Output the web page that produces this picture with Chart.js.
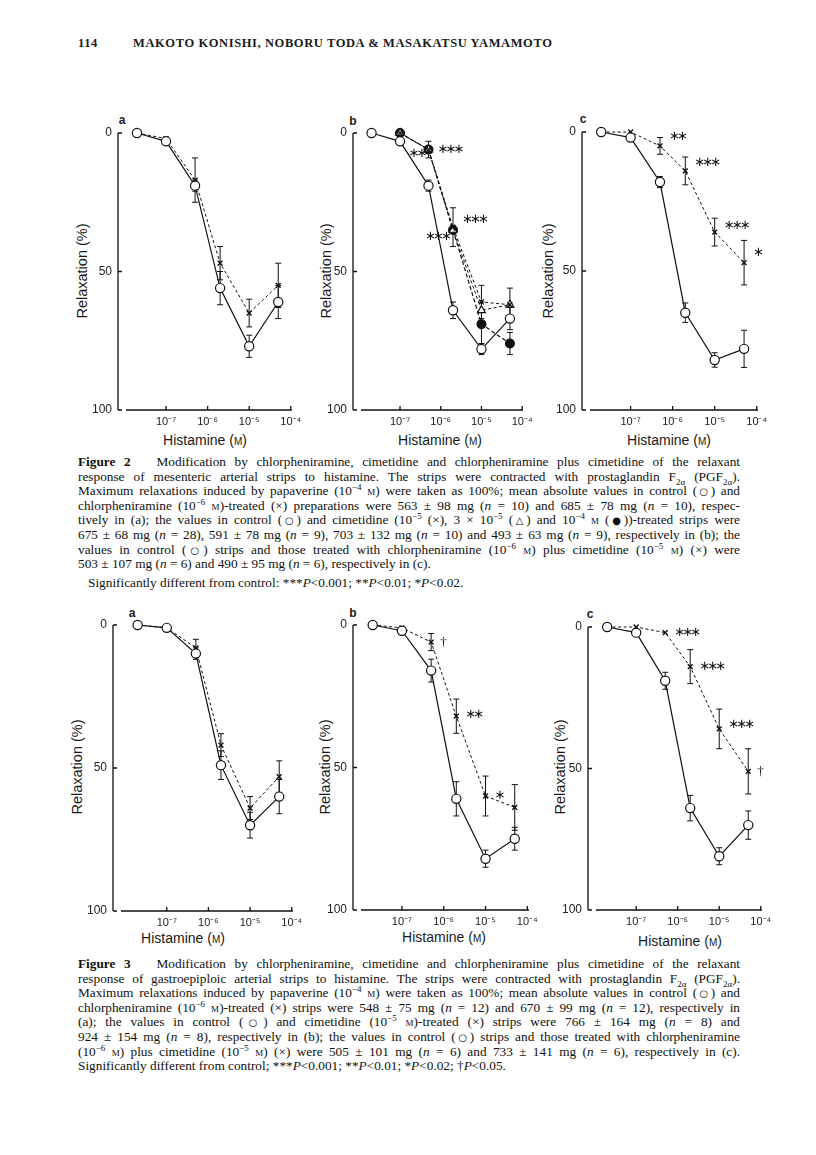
<!DOCTYPE html>
<html>
<head>
<meta charset="utf-8">
<script src="https://cdn.jsdelivr.net/npm/chart.js@4.4.0/dist/chart.umd.min.js"></script>
<style>
body { margin: 0; background: #fff; }
#page { position: relative; width: 816px; height: 1155px; overflow: hidden; background: #fff; color: #1a1a1a; }
canvas { position: absolute; }
.t { position: absolute; white-space: nowrap; }
.hdr { font-family: 'Liberation Serif', serif; font-weight: bold; font-size: 12.5px; letter-spacing: 0.6px; }
.lt { font-family: 'Liberation Sans', Arial, sans-serif; font-weight: bold; font-size: 12px; transform: translate(-50%, -50%); }
.yt { font-family: 'Liberation Sans', Arial, sans-serif; font-size: 14.5px; transform: translate(-50%, -50%) rotate(-90deg); }
.xt { font-family: 'Liberation Sans', Arial, sans-serif; font-size: 14px; transform: translate(-50%, -50%); }
.cap { position: absolute; left: 78px; width: 662px; font-family: 'Liberation Serif', serif; font-size: 13.3px; color: #111; }
.cap div { height: 14.6px; line-height: 14.6px; white-space: nowrap; text-align: justify; text-align-last: justify; }
.cap div.l { text-align: left; text-align-last: left; }
.cap div.ind { padding-left: 10px; margin-top: 4px; }
sup, sub { font-size: 9px; line-height: 0; }
.sc { font-variant: small-caps; }
.sy { font-family: 'DejaVu Sans', sans-serif; font-size: 10px; }
</style>
</head>
<body>
<div id="page">
  <div class="t hdr" style="left:78px; top:36px;">114</div>
  <div class="t hdr" style="left:133px; top:36px;">MAKOTO KONISHI, NOBORU TODA &amp; MASAKATSU YAMAMOTO</div>

  <div class="t lt" style="left:122px; top:120px;">a</div>
  <div class="t lt" style="left:353px; top:121px;">b</div>
  <div class="t lt" style="left:583px; top:119px;">c</div>
  <div class="t yt" style="left:82px; top:271px;">Relaxation (%)</div>
  <div class="t yt" style="left:326px; top:271px;">Relaxation (%)</div>
  <div class="t yt" style="left:548px; top:271px;">Relaxation (%)</div>
  <div class="t xt" style="left:205px; top:440px;">Histamine (<span class="sc">m</span>)</div>
  <div class="t xt" style="left:440px; top:440px;">Histamine (<span class="sc">m</span>)</div>
  <div class="t xt" style="left:669px; top:440px;">Histamine (<span class="sc">m</span>)</div>

  <div class="cap" style="top:455px;">
    <div><b>Figure 2</b>&nbsp;&nbsp; Modification by chlorpheniramine, cimetidine and chlorpheniramine plus cimetidine of the relaxant</div>
    <div>response of mesenteric arterial strips to histamine. The strips were contracted with prostaglandin F<sub>2α</sub> (PGF<sub>2α</sub>).</div>
    <div>Maximum relaxations induced by papaverine (10<sup>−4</sup> <span class="sc">m</span>) were taken as 100%; mean absolute values in control (<span class="sy">○</span>) and</div>
    <div>chlorpheniramine (10<sup>−6</sup> <span class="sc">m</span>)-treated (×) preparations were 563 ± 98 mg (<i>n</i> = 10) and 685 ± 78 mg (<i>n</i> = 10), respec-</div>
    <div>tively in (a); the values in control (<span class="sy">○</span>) and cimetidine (10<sup>−5</sup> (×), 3 × 10<sup>−5</sup> (<span class="sy">△</span>) and 10<sup>−4</sup> <span class="sc">m</span> (<span class="sy">●</span>))-treated strips were</div>
    <div>675 ± 68 mg (<i>n</i> = 28), 591 ± 78 mg (<i>n</i> = 9), 703 ± 132 mg (<i>n</i> = 10) and 493 ± 63 mg (<i>n</i> = 9), respectively in (b); the</div>
    <div>values in control (<span class="sy">○</span>) strips and those treated with chlorpheniramine (10<sup>−6</sup> <span class="sc">m</span>) plus cimetidine (10<sup>−5</sup> <span class="sc">m</span>) (×) were</div>
    <div class="l">503 ± 107 mg (<i>n</i> = 6) and 490 ± 95 mg (<i>n</i> = 6), respectively in (c).</div>
    <div class="l ind">Significantly different from control: ***<i>P</i>&lt;0.001; **<i>P</i>&lt;0.01; *<i>P</i>&lt;0.02.</div>
  </div>

  <div class="t lt" style="left:132px; top:613px;">a</div>
  <div class="t lt" style="left:353px; top:613px;">b</div>
  <div class="t lt" style="left:590px; top:614px;">c</div>
  <div class="t yt" style="left:77px; top:767px;">Relaxation (%)</div>
  <div class="t yt" style="left:325px; top:767px;">Relaxation (%)</div>
  <div class="t yt" style="left:560px; top:767px;">Relaxation (%)</div>
  <div class="t xt" style="left:183px; top:938px;">Histamine (<span class="sc">m</span>)</div>
  <div class="t xt" style="left:444px; top:937px;">Histamine (<span class="sc">m</span>)</div>
  <div class="t xt" style="left:680px; top:941px;">Histamine (<span class="sc">m</span>)</div>

  <div class="cap" style="top:957px;">
    <div><b>Figure 3</b>&nbsp;&nbsp; Modification by chlorpheniramine, cimetidine and chlorpheniramine plus cimetidine of the relaxant</div>
    <div>response of gastroepiploic arterial strips to histamine. The strips were contracted with prostaglandin F<sub>2α</sub> (PGF<sub>2α</sub>).</div>
    <div>Maximum relaxations induced by papaverine (10<sup>−4</sup> <span class="sc">m</span>) were taken as 100%; mean absolute values in control (<span class="sy">○</span>) and</div>
    <div>chlorpheniramine (10<sup>−6</sup> <span class="sc">m</span>)-treated (×) strips were 548 ± 75 mg (<i>n</i> = 12) and 670 ± 99 mg (<i>n</i> = 12), respectively in</div>
    <div>(a); the values in control (<span class="sy">○</span>) and cimetidine (10<sup>−5</sup> <span class="sc">m</span>)-treated (×) strips were 766 ± 164 mg (<i>n</i> = 8) and</div>
    <div>924 ± 154 mg (<i>n</i> = 8), respectively in (b); the values in control (<span class="sy">○</span>) strips and those treated with chlorpheniramine</div>
    <div>(10<sup>−6</sup> <span class="sc">m</span>) plus cimetidine (10<sup>−5</sup> <span class="sc">m</span>) (×) were 505 ± 101 mg (<i>n</i> = 6) and 733 ± 141 mg (<i>n</i> = 6), respectively in (c).</div>
    <div class="l">Significantly different from control; ***<i>P</i>&lt;0.001; **<i>P</i>&lt;0.01; *<i>P</i>&lt;0.02; †<i>P</i>&lt;0.05.</div>
  </div>
</div>

<script>
// histamine concentrations (M) used in every panel
const conc = [2e-8, 1e-7, 5e-7, 2e-6, 1e-5, 5e-5];
const xTicks = [1e-7, 1e-6, 1e-5, 1e-4];
const yTicks = [0, 50, 100];
const xTickText = { '-7': '10⁻⁷', '-6': '10⁻⁶', '-5': '10⁻⁵', '-4': '10⁻⁴' };

// Figure 2 - mesenteric artery (relaxation %, mean and s.e.)
const mesCtrlA = [0, 3, 19, 56, 77, 61];
const mesCtrlASem = [0, 0, 2, 6, 4, 6];
const mesChlorA = [0, 2, 17, 47, 65, 55];
const mesChlorASem = [0, 0, 8, 6, 5, 8];

const mesCtrlB = [0, 3, 19, 64, 78, 67];
const mesCtrlBSem = [0, 0, 2, 3, 2, 4];
const mesCim5B = [null, 0, 6, 34, 61, 62];
const mesCim5BSem = [0, 0, 3, 7, 6, 6];
const mesCim5BSig = ['', '', '***', '***', '', ''];
const mesCim30B = [null, 0, 6, 35, 64, 62];
const mesCim30BSem = [0, 0, 0, 0, 0, 0];
const mesCim100B = [null, 0, 6, 35, 69, 76];
const mesCim100BSem = [0, 0, 0, 0, 8, 4];
const mesCim100BSig = ['', '', '**', '***', '', ''];

const mesCtrlC = [0, 2, 18, 65, 82, 78];
const mesCtrlCSem = [0, 0, 2, 3.5, 2.6, 6.7];
const mesComboC = [0, 0, 5, 14, 36, 47];
const mesComboCSem = [0, 0, 3, 5, 5, 8];
const mesComboCSig = ['', '', '**', '***', '***', '*'];

// Figure 3 - gastroepiploic artery
const gasCtrlA = [0, 1, 10, 49, 70, 60];
const gasCtrlASem = [0, 0, 2, 5, 4.5, 6];
const gasChlorA = [0, 1, 8, 42, 64, 53];
const gasChlorASem = [0, 0, 3, 4, 4, 5.5];

const gasCtrlB = [0, 2, 16, 61, 82, 75];
const gasCtrlBSem = [0, 0, 4, 6, 3, 4];
const gasCimB = [0, 1, 6, 32, 60, 64];
const gasCimBSem = [0, 0, 3, 6, 7, 8];
const gasCimBSig = ['', '', '†', '**', '*', ''];

const gasCtrlC = [0, 2, 19, 64, 81, 70];
const gasCtrlCSem = [0, 0, 3, 4.5, 3, 5];
const gasComboC = [0, 0, 2, 14, 36, 51];
const gasComboCSem = [0, 0, 0, 6, 7, 8];
const gasComboCSig = ['', '', '***', '***', '***', '†'];

const Y_W = 34, X_H = 24, PAD_T = 10, PAD_R = 16;
const INK = '#111';

// page geometry of each plot (y axis x, top = 0%, bottom = 100%, end of x axis, log10 range)
const panels = [
  { left: 118, top: 133, right: 292, bottom: 410, lo: -8.13, hi: -3.97, series: [
    { vals: mesCtrlA, sem: mesCtrlASem, kind: 'open' },
    { vals: mesChlorA, sem: mesChlorASem, kind: 'cross' } ] },
  { left: 353, top: 133, right: 523, bottom: 410, lo: -8.13, hi: -3.98, series: [
    { vals: mesCtrlB, sem: mesCtrlBSem, kind: 'open' },
    { vals: mesCim5B, sem: mesCim5BSem, kind: 'cross', sig: mesCim5BSig, side: 1, dy: [0, 0, 0, -8, 0, 0] },
    { vals: mesCim30B, sem: mesCim30BSem, kind: 'tri' },
    { vals: mesCim100B, sem: mesCim100BSem, kind: 'dot', sig: mesCim100BSig, side: -1, dy: [0, 0, 4, 7, 0, 0] } ] },
  { left: 582, top: 132, right: 758, bottom: 410, lo: -8.14, hi: -3.97, series: [
    { vals: mesCtrlC, sem: mesCtrlCSem, kind: 'open' },
    { vals: mesComboC, sem: mesComboCSem, kind: 'cross', sig: mesComboCSig, side: 1, dy: [0, 0, -9, -8, -6, -10] } ] },
  { left: 113, top: 625, right: 293, bottom: 911, lo: -8.29, hi: -3.97, series: [
    { vals: gasCtrlA, sem: gasCtrlASem, kind: 'open' },
    { vals: gasChlorA, sem: gasChlorASem, kind: 'cross' } ] },
  { left: 353, top: 625, right: 529, bottom: 910, lo: -8.17, hi: -3.96, series: [
    { vals: gasCtrlB, sem: gasCtrlBSem, kind: 'open' },
    { vals: gasCimB, sem: gasCimBSem, kind: 'cross', sig: gasCimBSig, side: 1, dy: [0, 0, 0, -2, 0, 0] } ] },
  { left: 588, top: 627, right: 762, bottom: 910, lo: -8.16, hi: -3.97, series: [
    { vals: gasCtrlC, sem: gasCtrlCSem, kind: 'open' },
    { vals: gasComboC, sem: gasComboCSem, kind: 'cross', sig: gasComboCSig, side: 1, dy: [0, 0, 0, 0, -4, 0] } ] }
];

function styleFor(kind) {
  const base = { borderColor: INK, pointBorderColor: INK, borderWidth: 1.2, pointBorderWidth: 1.2, fill: false, tension: 0, clip: false };
  if (kind === 'open') return { ...base, pointStyle: 'circle', pointRadius: 4.6, pointBackgroundColor: '#fff' };
  if (kind === 'cross') return { ...base, borderWidth: 1, borderDash: [3, 2.5], pointStyle: 'crossRot', pointRadius: 3.4, pointBorderWidth: 1.4 };
  if (kind === 'dot') return { ...base, borderDash: [4, 2.5], pointStyle: 'circle', pointRadius: 4.4, pointBackgroundColor: INK };
  return { ...base, borderWidth: 1, borderDash: [3, 2.5], pointStyle: 'triangle', pointRadius: 4.6, pointBackgroundColor: '#fff' };
}

// axis lines with short inward ticks
const axisFrame = {
  id: 'axisFrame',
  beforeDatasetsDraw(chart) {
    const { ctx, chartArea: a, scales: { x, y } } = chart;
    ctx.save();
    ctx.strokeStyle = INK; ctx.lineWidth = 1.3;
    ctx.beginPath();
    ctx.moveTo(a.left, a.top); ctx.lineTo(a.left, a.bottom);
    ctx.moveTo(a.left + 8, a.bottom); ctx.lineTo(a.right, a.bottom);
    yTicks.forEach(v => { const py = y.getPixelForValue(v); ctx.moveTo(a.left, py); ctx.lineTo(a.left + 4, py); });
    xTicks.forEach(v => { const px = x.getPixelForValue(v); ctx.moveTo(px, a.bottom); ctx.lineTo(px, a.bottom - 4); });
    ctx.stroke();
    ctx.restore();
  }
};

// s.e. bars, drawn under the markers
const errorBars = {
  id: 'errorBars',
  beforeDatasetsDraw(chart) {
    const { ctx, scales: { x, y } } = chart;
    ctx.save();
    ctx.strokeStyle = INK; ctx.lineWidth = 1;
    chart.data.datasets.forEach(ds => {
      ds.data.forEach(p => {
        if (!p.e) return;
        const px = x.getPixelForValue(p.x);
        const y1 = y.getPixelForValue(p.y - p.e), y2 = y.getPixelForValue(p.y + p.e);
        ctx.beginPath();
        ctx.moveTo(px, y1); ctx.lineTo(px, y2);
        ctx.moveTo(px - 3, y1); ctx.lineTo(px + 3, y1);
        ctx.moveTo(px - 3, y2); ctx.lineTo(px + 3, y2);
        ctx.stroke();
      });
    });
    ctx.restore();
  }
};

// significance marks next to the treated points
const sigMarks = {
  id: 'sigMarks',
  afterDatasetsDraw(chart) {
    const { ctx, scales: { x, y } } = chart;
    ctx.save();
    ctx.fillStyle = INK;
    ctx.textBaseline = 'middle';
    ctx.textAlign = 'left';
    chart.data.datasets.forEach(ds => {
      ds.data.forEach(p => {
        if (!p.s) return;
        const chars = [...p.s];
        const step = 8;
        const px = x.getPixelForValue(p.x);
        const py = y.getPixelForValue(p.y) + p.dy;
        const sx = ds.side > 0 ? px + 9 : px - 4 - step * chars.length;
        chars.forEach((c, k) => {
          if (c === '†') { ctx.font = '13px "Liberation Serif"'; ctx.fillText(c, sx + k * step, py); }
          else { ctx.font = '13px "DejaVu Sans"'; ctx.fillText('∗', sx + k * step, py); }
        });
      });
    });
    ctx.restore();
  }
};

const page = document.getElementById('page');

panels.forEach(pn => {
  const cv = document.createElement('canvas');
  const w = pn.right - pn.left + Y_W + PAD_R;
  const h = pn.bottom - pn.top + PAD_T + X_H;
  cv.width = w; cv.height = h;
  cv.style.left = (pn.left - Y_W) + 'px';
  cv.style.top = (pn.top - PAD_T) + 'px';
  cv.style.width = w + 'px'; cv.style.height = h + 'px';
  page.appendChild(cv);

  const datasets = pn.series.map(s => {
    const pts = [];
    conc.forEach((c, i) => {
      if (s.vals[i] === null) return;
      pts.push({ x: c, y: s.vals[i], e: s.sem[i], s: s.sig ? s.sig[i] : '', dy: s.dy ? s.dy[i] : 0 });
    });
    return { data: pts, side: s.side || 1, ...styleFor(s.kind) };
  });

  new Chart(cv, {
    type: 'line',
    data: { datasets },
    options: {
      responsive: false, animation: false, devicePixelRatio: 1,
      layout: { padding: { top: PAD_T, right: PAD_R, left: 0, bottom: 0 } },
      plugins: { legend: { display: false }, tooltip: { enabled: false } },
      events: [],
      scales: {
        x: {
          type: 'logarithmic', min: Math.pow(10, pn.lo), max: Math.pow(10, pn.hi),
          grid: { display: false, drawTicks: false }, border: { display: false },
          afterBuildTicks: sc => { sc.ticks = xTicks.map(v => ({ value: v })); },
          afterFit: sc => { sc.height = X_H; sc.paddingLeft = 0; sc.paddingRight = 0; },
          ticks: {
            autoSkip: false, maxRotation: 0, padding: 5, color: '#222',
            font: { family: 'Liberation Sans', size: 11 },
            callback: v => xTickText[String(Math.round(Math.log10(v)))] || ''
          }
        },
        y: {
          type: 'linear', reverse: true, min: 0, max: 100,
          grid: { display: false, drawTicks: false }, border: { display: false },
          afterBuildTicks: sc => { sc.ticks = yTicks.map(v => ({ value: v })); },
          afterFit: sc => { sc.width = Y_W; sc.paddingTop = 0; sc.paddingBottom = 0; },
          ticks: { padding: 6, color: '#222', font: { family: 'Liberation Sans', size: 12 } }
        }
      }
    },
    plugins: [axisFrame, errorBars, sigMarks]
  });
});
</script>
</body>
</html>
